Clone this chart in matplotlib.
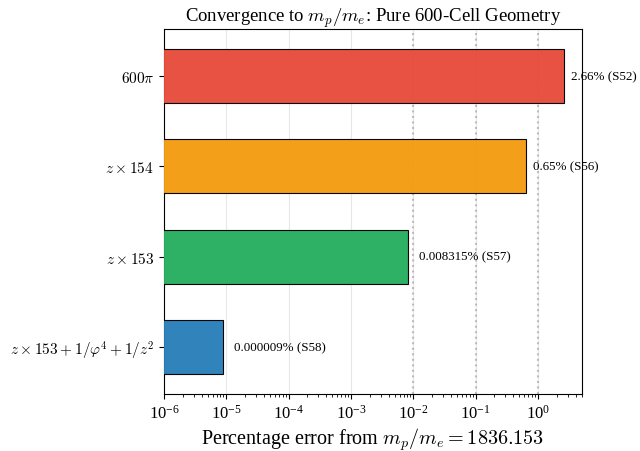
import matplotlib
matplotlib.use("Agg")
import matplotlib.pyplot as plt
import numpy as np

plt.rcParams['font.family'] = ['Liberation Serif', 'DejaVu Serif']
plt.rcParams['mathtext.fontset'] = 'cm'

labels = [r'$z \times 153 + 1/\varphi^4 + 1/z^2$', r'$z \times 153$', r'$z \times 154$', r'$600\pi$']
errors = [0.000009, 0.008315, 0.65, 2.66]
texts = ['0.000009% (S58)', '0.008315% (S57)', '0.65% (S56)', '2.66% (S52)']
colors = ['#2980b9', '#27ae60', '#f39c12', '#e74c3c']
ref_lines = [0.01, 0.1, 1.0]

fig = plt.figure(figsize=(6.4, 4.52), dpi=100)
ax = fig.add_axes([164/640, 1-395/452, (582-164)/640, (395-30)/452])

y = np.arange(len(labels))
ax.barh(y, errors, height=0.6, color=colors, edgecolor='black', linewidth=0.8, alpha=0.97, zorder=3)
ax.set_xscale('log')
ax.set_xlim(1e-6, 5.08)
ax.set_ylim(-0.52, 3.52)
ax.set_yticks(y)
ax.set_yticklabels(labels, fontsize=11)
ax.grid(axis='x', alpha=0.3, zorder=0)
for v in ref_lines:
    ax.axvline(v, color='gray', linestyle=':', linewidth=1.5, alpha=0.5, zorder=1)
for yi, v, t in zip(y, errors, texts):
    f = 1.5 if v < 0.1 else 1.28
    ax.text(v * f, yi, t, va='center', ha='left', fontsize=9.4, zorder=5)
ax.set_title(r'Convergence to $m_p/m_e$: Pure 600-Cell Geometry', fontsize=13.5)
ax.set_xlabel(r'Percentage error from $m_p/m_e = 1836.153$', fontsize=14.5, labelpad=3)
ax.tick_params(axis='x', labelsize=12)

fig.savefig('out.png', dpi=100)
